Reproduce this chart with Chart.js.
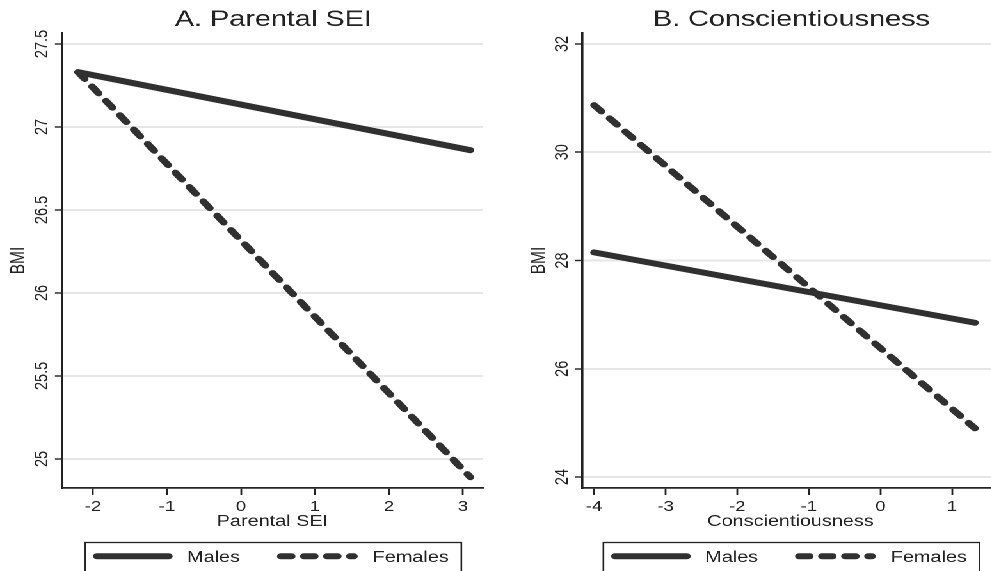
<!DOCTYPE html>
<html>
<head>
<meta charset="utf-8">
<script src="https://cdn.jsdelivr.net/npm/chart.js@4.4.1/dist/chart.umd.min.js"></script>
<style>
  html, body { margin: 0; padding: 0; background: #fff; width: 991px; height: 571px; overflow: hidden; }
  /* the reference is drawn with wide type, so the whole figure is stretched sideways */
  #stretch { position: absolute; left: 0; top: 0; width: 786px; height: 571px; transform: scaleX(1.28); transform-origin: 0 0; }
  .panel { position: absolute; top: 0; height: 571px; }
  #panelA { left: 0; width: 383px; }
  #panelB { left: 383px; width: 403px; }
</style>
</head>
<body>
<div id="stretch">
  <div class="panel" id="panelA"><canvas id="chartA"></canvas></div>
  <div class="panel" id="panelB"><canvas id="chartB"></canvas></div>
</div>
<script>
// Panel A: Parental SEI
const seiX = [-2.2, 3.1];
const seiMales = [27.33, 26.86];
const seiFemales = [27.33, 24.89];
const seiXTicks = [-2, -1, 0, 1, 2, 3];
const seiYTicks = [25, 25.5, 26, 26.5, 27, 27.5];

// Panel B: Conscientiousness
const consX = [-4, 1.32];
const consMales = [28.15, 26.85];
const consFemales = [30.87, 24.9];
const consXTicks = [-4, -3, -2, -1, 0, 1];
const consYTicks = [24, 26, 28, 30, 32];

const seriesLabels = ['Males', 'Females'];

const INK = '#303030';
const TEXT = '#222';
const FONT = '"Liberation Sans", Arial, sans-serif';
Chart.defaults.font.family = FONT;
Chart.defaults.color = TEXT;

// panel title, rotated y tick labels, y title and the boxed legend
const panelDecor = {
  id: 'panelDecor',
  afterDraw(chart, args, opts) {
    const ctx = chart.ctx;
    const area = chart.chartArea;
    const yScale = chart.scales.y;
    const mid = (area.left + area.right) / 2 + 0.7;
    ctx.save();
    ctx.fillStyle = TEXT;

    // title
    ctx.font = '22.5px ' + FONT;
    ctx.textAlign = 'center';
    ctx.textBaseline = 'alphabetic';
    ctx.fillText(opts.title, mid, 26);

    // y tick labels, read bottom to top
    ctx.font = '14.5px ' + FONT;
    yScale.ticks.forEach(t => {
      ctx.save();
      ctx.translate(area.left - 11.3, yScale.getPixelForValue(t.value));
      ctx.rotate(-Math.PI / 2);
      ctx.fillText(String(t.value), 0, 0);
      ctx.restore();
    });

    // y title
    ctx.font = '15.5px ' + FONT;
    ctx.save();
    ctx.translate(area.left - 33.6, (area.top + area.bottom) / 2);
    ctx.rotate(-Math.PI / 2);
    ctx.textBaseline = 'middle';
    ctx.fillText('BMI', 0, 0);
    ctx.restore();

    // legend box
    const boxW = 293.75;
    const boxL = mid - boxW / 2;
    const boxTop = 542.5;
    ctx.strokeStyle = TEXT;
    ctx.lineWidth = 1.3;
    ctx.strokeRect(boxL, boxTop, boxW, 40);

    const rowY = 556.3;
    const samples = [[boxL + 9, boxL + 65.2], [boxL + 152.7, boxL + 209.8]];
    const textX = [boxL + 79.5, boxL + 224.5];
    chart.data.datasets.forEach((ds, i) => {
      ctx.save();
      ctx.strokeStyle = ds.borderColor;
      ctx.lineWidth = ds.borderWidth;
      ctx.lineCap = 'round';
      ctx.setLineDash(ds.borderDash || []);
      ctx.beginPath();
      ctx.moveTo(samples[i][0], rowY);
      ctx.lineTo(samples[i][1], rowY);
      ctx.stroke();
      ctx.restore();
      ctx.font = '15.5px ' + FONT;
      ctx.textAlign = 'left';
      ctx.textBaseline = 'alphabetic';
      ctx.fillText(ds.label, textX[i], 561.8);
    });
    ctx.restore();
  }
};

function makePanel(id, p) {
  const males = p.x.map((x, i) => ({ x: x, y: p.males[i] }));
  const females = p.x.map((x, i) => ({ x: x, y: p.females[i] }));
  return new Chart(document.getElementById(id), {
    type: 'scatter',
    data: {
      datasets: [
        { label: seriesLabels[0], data: males, showLine: true, borderColor: INK, borderWidth: 6,
          borderCapStyle: 'round', pointRadius: 0, pointHoverRadius: 0 },
        { label: seriesLabels[1], data: females, showLine: true, borderColor: INK, borderWidth: 6,
          borderCapStyle: 'round', borderDash: [8.5, 9.5], pointRadius: 0, pointHoverRadius: 0 }
      ]
    },
    options: {
      responsive: true,
      maintainAspectRatio: false,
      devicePixelRatio: 2,
      animation: false,
      events: [],
      layout: { padding: { top: 33, bottom: 0, left: 0, right: p.padRight } },
      plugins: {
        legend: { display: false },
        title: { display: false },
        tooltip: { enabled: false },
        panelDecor: { title: p.title }
      },
      scales: {
        x: {
          type: 'linear',
          min: p.xMin,
          max: p.xMax,
          afterBuildTicks: s => { s.ticks = p.xTicks.map(v => ({ value: v })); },
          afterFit: s => { s.height = 83; s.paddingLeft = 0; s.paddingRight = 0; },
          ticks: { color: TEXT, font: { size: 14.5 }, padding: 3.5, maxRotation: 0, callback: v => String(v) },
          grid: { drawOnChartArea: false, drawTicks: true, tickLength: 7, tickColor: TEXT, tickWidth: 1.4 },
          border: { display: true, color: TEXT, width: 1.8 },
          title: { display: true, text: p.xTitle, color: TEXT, font: { size: 15.5 }, padding: { top: 0, bottom: 40 } }
        },
        y: {
          type: 'linear',
          min: p.yMin,
          max: p.yMax,
          afterBuildTicks: s => { s.ticks = p.yTicks.map(v => ({ value: v })); },
          afterFit: s => { s.width = p.axisWidth; s.paddingTop = 0; s.paddingBottom = 0; },
          ticks: { display: false },
          grid: { color: '#e6e6e6', lineWidth: 2, drawTicks: true, tickLength: 5.5, tickColor: TEXT, tickWidth: 1.4 },
          border: { display: true, color: TEXT, width: 1.8 }
        }
      }
    },
    plugins: [panelDecor]
  });
}

makePanel('chartA', {
  title: 'A. Parental SEI', xTitle: 'Parental SEI',
  x: seiX, males: seiMales, females: seiFemales,
  xTicks: seiXTicks, yTicks: seiYTicks,
  xMin: -2.419, xMax: 3.27, yMin: 24.825, yMax: 27.566,
  axisWidth: 48.4, padRight: 5.7
});

makePanel('chartB', {
  title: 'B. Conscientiousness', xTitle: 'Conscientiousness',
  x: consX, males: consMales, females: consFemales,
  xTicks: consXTicks, yTicks: consYTicks,
  xMin: -4.168, xMax: 1.656, yMin: 23.797, yMax: 32.203,
  axisWidth: 71.7, padRight: 5.5
});
</script>
</body>
</html>
